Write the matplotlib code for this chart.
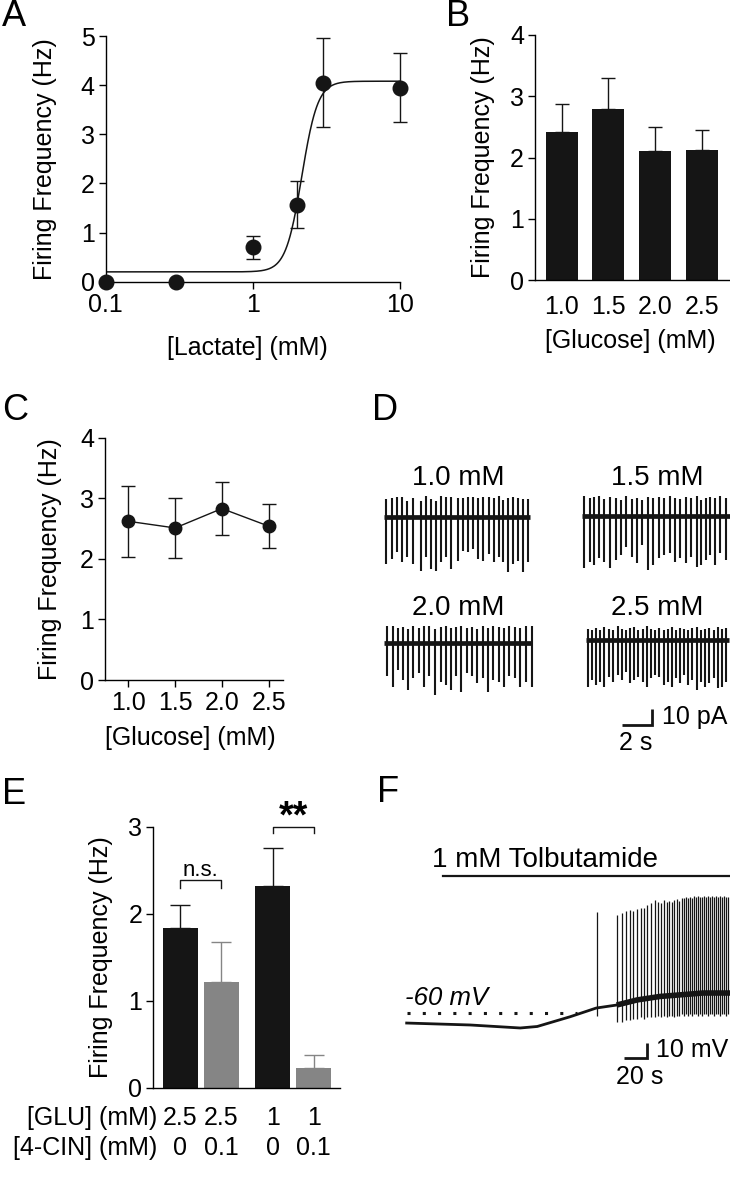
import numpy as np
import matplotlib
matplotlib.use("Agg")
import matplotlib.pyplot as plt
from matplotlib.ticker import FixedLocator, NullLocator

plt.rcParams['font.family'] = ['Liberation Sans', 'DejaVu Sans']

W, H = 730, 1199
BLACK = '#151515'
GRAY = '#858585'
FS = 18       # tick and axis labels
FS_TXT = 20   # trace titles
FS_BAR = 18   # scale bar text

# A: lactate dose response
lactate_mm = [0.1, 0.3, 1, 2, 3, 10]
lactate_hz = [0, 0, 0.70, 1.57, 4.05, 3.95]
lactate_err = [0, 0, 0.24, 0.47, 0.90, 0.71]
fit_bottom, fit_top, fit_ec50, fit_hill = 0.2, 4.08, 2.15, 8

# B: glucose bars
glucose_labels = ["1.0", "1.5", "2.0", "2.5"]
glucose_bar_hz = [2.42, 2.80, 2.11, 2.12]
glucose_bar_err = [0.45, 0.49, 0.39, 0.33]

# C: glucose points
glucose_mm = [1.0, 1.5, 2.0, 2.5]
glucose_pt_hz = [2.62, 2.51, 2.83, 2.54]
glucose_pt_err = [0.59, 0.49, 0.44, 0.36]

# D: current traces (spike times in s, amplitudes in pA)
d_names = ["1.0 mM", "1.5 mM", "2.0 mM", "2.5 mM"]
d_spike_t = [
    [0.07, 0.44, 0.82, 1.13, 1.49, 1.89, 2.40, 2.71, 3.04, 3.38, 3.71, 4.07, 4.42, 4.84,
     5.18, 5.51, 5.87, 6.22, 6.56, 6.91, 7.27, 7.60, 7.89, 8.22, 8.56, 8.89, 9.22, 9.56],
    [0.09, 0.47, 0.76, 1.07, 1.42, 1.82, 2.18, 2.51, 2.87, 3.24, 3.58, 3.91, 4.31, 4.69,
     5.07, 5.42, 5.80, 6.13, 6.49, 6.84, 7.20, 7.58, 7.87, 8.18, 8.49, 8.80, 9.16, 9.51],
    [0.16, 0.51, 0.84, 1.22, 1.56, 1.89, 2.24, 2.60, 2.96, 3.33, 3.71, 4.07, 4.40, 4.73,
     5.09, 5.44, 5.80, 6.16, 6.51, 6.84, 7.22, 7.58, 7.93, 8.29, 8.67, 9.00, 9.38, 9.78],
    [0.06, 0.33, 0.60, 0.89, 1.18, 1.49, 1.78, 2.06, 2.33, 2.62, 2.89, 3.18, 3.44, 3.73,
     4.02, 4.29, 4.55, 4.84, 5.13, 5.40, 5.66, 5.95, 6.24, 6.51, 6.78, 7.04, 7.33, 7.62,
     7.89, 8.18, 8.46, 8.73, 9.00, 9.26],
]
d_spike_down = [
    [29.6, 26.5, 22.3, 28.5, 25.4, 29.6, 33.7, 25.4, 32.7, 33.7, 28.5, 25.4, 32.7, 27.5,
     21.2, 22.3, 20.2, 26.5, 27.5, 23.3, 28.5, 25.4, 28.5, 34.8, 29.6, 27.5, 34.8, 28.5],
    [32.7, 28.5, 30.6, 26.5, 28.5, 32.7, 27.5, 24.4, 19.2, 25.4, 29.6, 18.1, 33.7, 30.6,
     26.5, 24.4, 23.3, 28.5, 26.5, 29.6, 25.4, 31.7, 30.6, 27.5, 24.4, 30.6, 23.3, 27.5],
    [20.8, 27.1, 16.7, 22.9, 29.2, 21.9, 18.7, 27.1, 20.8, 32.3, 24.0, 26.0, 29.2, 20.8,
     30.2, 18.7, 20.8, 25.0, 21.9, 30.2, 22.9, 24.0, 27.1, 20.8, 21.9, 27.1, 24.0, 27.1],
    [29.2, 25.0, 28.1, 26.0, 29.2, 22.9, 26.0, 21.9, 25.0, 19.8, 27.1, 25.0, 22.9, 26.0,
     29.2, 24.0, 21.9, 22.9, 28.1, 26.0, 29.2, 24.0, 27.1, 21.9, 28.1, 25.0, 31.2, 26.0,
     29.2, 27.1, 24.0, 30.2, 29.2, 26.0],
]
d_spike_up = [
    [11.0, 12.0, 12.5, 12.5, 10.0, 11.7, 10.0, 13.0, 11.0, 10.0, 13.0, 12.5, 12.5, 11.7,
     11.7, 12.5, 12.5, 11.7, 12.5, 12.5, 11.7, 13.0, 10.4, 12.0, 12.5, 11.7, 11.0, 11.0],
    [12.5, 11.0, 12.0, 12.5, 10.5, 12.0, 11.0, 10.0, 12.5, 10.5, 11.5, 10.0, 12.0, 11.5,
     12.0, 11.0, 12.5, 11.5, 10.5, 12.0, 11.0, 12.5, 10.0, 11.5, 12.0, 11.0, 12.5, 11.5],
    [10.5, 11.0, 9.5, 10.0, 9.0, 10.5, 9.5, 10.5, 11.0, 9.0, 10.0, 10.5, 9.5, 10.0,
     10.5, 9.5, 10.0, 9.0, 10.5, 9.5, 11.0, 10.0, 9.5, 10.5, 10.0, 9.5, 10.5, 11.0],
    [7.0, 6.0, 7.5, 6.5, 8.0, 7.0, 6.0, 8.5, 7.0, 6.5, 7.5, 8.0, 6.0, 7.0,
     8.5, 7.0, 6.5, 7.5, 6.0, 7.0, 8.0, 6.5, 7.5, 7.0, 6.0, 7.5, 8.0, 6.5,
     7.0, 7.5, 6.0, 8.0, 7.0, 7.5],
]
d_trace_len = [9.67, 9.8, 9.8, 9.5]

# E: 4-CIN
glu_labels = ["2.5", "2.5", "1", "1"]
cin_labels = ["0", "0.1", "0", "0.1"]
cin_hz = [1.84, 1.22, 2.32, 0.23]
cin_err = [0.26, 0.46, 0.44, 0.15]

# F: tolbutamide current clamp (s, mV)
f_base_t = [0, 56, 100, 115, 144, 167, 185, 203, 223, 261, 285]
f_base_mv = [-66.7, -68, -70, -69, -62.5, -56.7, -54.7, -51.3, -49, -46.7, -46.7]
f_spike_t = [167.4, 185.6, 189.4, 193.2, 196.7, 199.7, 203.2, 206.2, 209.1, 212.0, 215.0,
             218.5, 221.7, 224.1, 226.7, 229.1, 231.4, 233.5, 235.5, 237.9, 240.2, 242.3,
             244.3, 246.1, 247.8, 249.6, 251.4, 253.1, 254.9, 256.6, 258.4, 260.2, 261.9,
             263.7, 265.5, 267.2, 269.0, 270.7, 272.5, 274.3, 276.0, 277.8, 279.6, 281.3, 283.1]
f_spike_peak = [7.5, 5.3, 6.4, 8.0, 8.6, 8.0, 9.3, 9.7, 10.2, 12.0, 13.0,
                15.3, 14.2, 13.0, 15.3, 14.2, 14.6, 13.7, 15.3, 15.9, 14.6, 16.4,
                16.8, 17.3, 16.5, 17.5, 16.9, 17.8, 17.2, 18.0, 17.5, 17.0, 18.2,
                17.6, 17.9, 17.3, 18.1, 17.5, 17.8, 17.2, 17.9, 17.4, 17.7, 17.1, 17.6]
f_spike_trough = [-62, -66, -66, -65, -65, -64, -64, -63, -64, -63, -63,
                  -63, -62, -63, -62, -63, -62, -62, -63, -62, -62, -61,
                  -62, -61, -62, -61, -62, -61, -61, -62, -61, -62, -61,
                  -61, -62, -61, -61, -62, -61, -61, -62, -61, -61, -62, -61]


def px_axes(fig, left, top, right, bottom):
    return fig.add_axes([left / W, 1 - bottom / H, (right - left) / W, (bottom - top) / H])


def style_axes(ax):
    for s in ['top', 'right']:
        ax.spines[s].set_visible(False)
    for s in ['left', 'bottom']:
        ax.spines[s].set_linewidth(1.0)
    ax.tick_params(direction='out', length=5, width=1, labelsize=FS, pad=3)


def panel_a(fig):
    ax = px_axes(fig, 105.7, 36, 400, 281.7)
    style_axes(ax)
    ax.set_xscale('log')
    xs = np.logspace(-1, 1, 400)
    fit = fit_bottom + (fit_top - fit_bottom) / (1 + (fit_ec50 / xs) ** fit_hill)
    ax.plot(xs, fit, color=BLACK, lw=1.1)
    ax.errorbar(lactate_mm, lactate_hz, yerr=lactate_err, fmt='o', color=BLACK, ms=10.5,
                capsize=5, elinewidth=1, capthick=1, clip_on=False, zorder=4)
    ax.set_xlim(0.1, 10)
    ax.set_ylim(0, 5)
    ax.xaxis.set_major_locator(FixedLocator([0.1, 1, 10]))
    ax.xaxis.set_minor_locator(NullLocator())
    ax.set_xticklabels(['0.1', '1', '10'])
    ax.set_yticks(range(6))
    ax.set_ylabel('Firing Frequency (Hz)', fontsize=FS)
    ax.yaxis.set_label_coords(-0.165, 0.5)
    ax.set_xlabel('[Lactate] (mM)', fontsize=FS)
    ax.xaxis.set_label_coords(0.48, -0.221)


def panel_b(fig):
    ax = px_axes(fig, 535, 35, 730, 280)
    style_axes(ax)
    x = np.arange(len(glucose_bar_hz))
    ax.bar(x, glucose_bar_hz, width=0.685, color=BLACK)
    ax.errorbar(x, glucose_bar_hz, yerr=[np.zeros(len(x)), glucose_bar_err], fmt='none',
                ecolor=BLACK, capsize=5, elinewidth=1, capthick=1)
    ax.set_xlim(-0.57, 3.6)
    ax.set_ylim(0, 4)
    ax.set_yticks(range(5))
    ax.set_xticks(x)
    ax.set_xticklabels(glucose_labels)
    ax.tick_params(axis='x', length=0, pad=11)
    ax.set_ylabel('Firing Frequency (Hz)', fontsize=FS)
    ax.yaxis.set_label_coords(-0.205, 0.5)
    ax.set_xlabel('[Glucose] (mM)', fontsize=FS)
    ax.xaxis.set_label_coords(0.49, -0.2)


def panel_c(fig):
    ax = px_axes(fig, 105, 437.7, 282.7, 680)
    style_axes(ax)
    ax.errorbar(glucose_mm, glucose_pt_hz, yerr=glucose_pt_err, fmt='-o', color=BLACK, ms=9,
                lw=1, capsize=5, elinewidth=1, capthick=1)
    ax.set_xlim(0.75, 2.65)
    ax.set_ylim(0, 4)
    ax.set_yticks(range(5))
    ax.set_xticks(glucose_mm)
    ax.set_xticklabels(glucose_labels)
    ax.set_ylabel('Firing Frequency (Hz)', fontsize=FS)
    ax.yaxis.set_label_coords(-0.244, 0.5)
    ax.set_xlabel('[Glucose] (mM)', fontsize=FS)
    ax.xaxis.set_label_coords(0.48, -0.19)


def panel_d(fig):
    # axes in s / pA: 15 px per s, 1.6 px per pA
    ax = px_axes(fig, 370, 440, 730, 760)
    ax.set_xlim(0, 24)
    ax.set_ylim(0, 200)
    ax.axis('off')
    offsets = [(1.0, 152), (14.2, 152.5), (1.0, 73), (14.45, 75)]
    label_pos = [(5.87, 176), (19.13, 176), (5.87, 95), (19.13, 95)]
    for i in range(4):
        x0, y0 = offsets[i]
        t = np.array(d_spike_t[i]) + x0
        ax.plot([x0 - 0.05, x0 + d_trace_len[i]], [y0, y0], color=BLACK, lw=3.4,
                solid_capstyle='butt')
        ax.vlines(t, y0 - np.array(d_spike_down[i]), y0 + np.array(d_spike_up[i]),
                  color=BLACK, lw=1.5)
        ax.text(label_pos[i][0], label_pos[i][1], d_names[i], fontsize=FS_TXT,
                ha='center', va='center')
    # scale bar 2 s / 10 pA
    ax.plot([16.78, 18.78, 18.78], [21.9, 21.9, 31.9], color=BLACK, lw=2,
            solid_capstyle='butt', solid_joinstyle='miter')
    ax.text(19.5, 26.9, '10 pA', fontsize=FS_BAR, va='center')
    ax.text(16.6, 10.6, '2 s', fontsize=FS_BAR, va='center')


def panel_e(fig):
    ax = px_axes(fig, 153.3, 826.7, 340, 1087.7)
    style_axes(ax)
    x = [0, 1, 2.25, 3.25]
    colors = [BLACK, GRAY, BLACK, GRAY]
    ax.bar(x, cin_hz, width=0.85, color=colors)
    for xi, v, e, c in zip(x, cin_hz, cin_err, colors):
        ax.errorbar([xi], [v], yerr=[[0], [e]], fmt='none', ecolor=c, capsize=7,
                    elinewidth=1, capthick=1)
    ax.set_xlim(-0.66, 3.89)
    ax.set_ylim(0, 3)
    ax.set_yticks(range(4))
    ax.set_xticks([])
    ax.set_ylabel('Firing Frequency (Hz)', fontsize=FS)
    ax.yaxis.set_label_coords(-0.214, 0.5)
    # significance brackets
    ax.plot([x[0], x[0], x[1], x[1]], [2.30, 2.39, 2.39, 2.30], color=BLACK, lw=1, clip_on=False)
    ax.text((x[0] + x[1]) / 2, 2.50, 'n.s.', fontsize=16, ha='center', va='center')
    ax.plot([x[2], x[2], x[3], x[3]], [2.93, 3.0, 3.0, 2.93], color=BLACK, lw=1, clip_on=False)
    ax.text((x[2] + x[3]) / 2, 3.11, '**', fontsize=27, ha='center', va='center',
            fontweight='bold')
    # condition table
    tr = ax.get_xaxis_transform()
    rows = [('[GLU] (mM)', glu_labels, -0.116), ('[4-CIN] (mM)', cin_labels, -0.231)]
    for name, vals, yy in rows:
        ax.text(0.02, yy, name, transform=ax.transAxes, fontsize=FS, ha='right', va='center')
        for xi, v in zip(x, vals):
            ax.text(xi, yy, v, transform=tr, fontsize=FS, ha='center', va='center')


def panel_f(fig):
    # axes in s / mV: 1.135 px per s, 1.5 px per mV
    ax = px_axes(fig, 370, 840, 730, 1100)
    ax.set_xlim(-32.3, 284.8)
    ax.set_ylim(-118, 55.3)
    ax.axis('off')
    ax.plot(f_base_t, f_base_mv, color=BLACK, lw=2.0)
    ax.plot(f_base_t[6:], f_base_mv[6:], color=BLACK, lw=4.0, solid_capstyle='butt')
    ax.vlines(f_spike_t, f_spike_trough, f_spike_peak, color=BLACK, lw=0.9)
    ax.plot([0, 150], [-60, -60], color=BLACK, lw=2.2, linestyle=(0, (1, 4)))
    ax.text(-1.5, -50, '-60 mV', fontsize=18.5, style='italic', va='center')
    ax.plot([31.7, 284.8], [31.3, 31.3], color=BLACK, lw=1.6)
    ax.text(22, 42, '1 mM Tolbutamide', fontsize=FS_TXT, va='center')
    ax.plot([191.5, 211.5, 211.5], [-90.2, -90.2, -80.2], color=BLACK, lw=2,
            solid_capstyle='butt', solid_joinstyle='miter')
    ax.text(219.5, -84.7, '10 mV', fontsize=FS_BAR, va='center')
    ax.text(184, -102.5, '20 s', fontsize=FS_BAR, va='center')


def main():
    fig = plt.figure(figsize=(W / 100, H / 100), dpi=100)
    panel_a(fig)
    panel_b(fig)
    panel_c(fig)
    panel_d(fig)
    panel_e(fig)
    panel_f(fig)
    letters = [('A', 2, 17), ('B', 446, 17), ('C', 2, 411), ('D', 372, 411),
               ('E', 2, 794), ('F', 377, 792)]
    for s, lx, ly in letters:
        fig.text(lx / W, 1 - ly / H, s, fontsize=26, ha='left', va='center')
    fig.savefig('out.png', dpi=100)


if __name__ == "__main__":
    main()
